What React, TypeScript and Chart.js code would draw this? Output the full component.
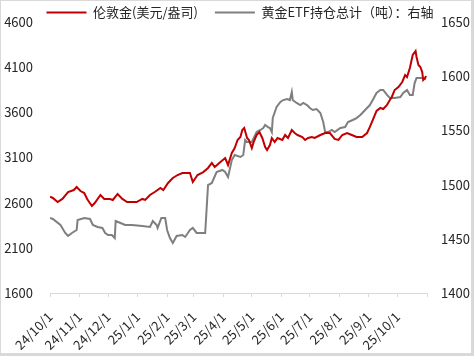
import React, { useEffect, useRef } from 'react';
import { Chart, registerables } from 'chart.js';

Chart.register(...registerables);

// Tick labels of the date axis (month starts), last boundary unlabelled
const monthStarts = [
  '2024-10-01', '2024-11-01', '2024-12-01', '2025-01-01', '2025-02-01', '2025-03-01', '2025-04-01',
  '2025-05-01', '2025-06-01', '2025-07-01', '2025-08-01', '2025-09-01', '2025-10-01', '2025-11-01',
];
const monthLabels = [
  '24/10/1', '24/11/1', '24/12/1', '25/1/1', '25/2/1', '25/3/1', '25/4/1',
  '25/5/1', '25/6/1', '25/7/1', '25/8/1', '25/9/1', '25/10/1', '',
];

// 伦敦金 (USD/oz)
const goldDates = [
  '2024-10-01', '2024-10-04', '2024-10-09', '2024-10-14', '2024-10-20', '2024-10-26', '2024-10-29',
  '2024-11-02', '2024-11-06', '2024-11-09', '2024-11-14', '2024-11-17', '2024-11-23', '2024-11-27',
  '2024-12-03', '2024-12-06', '2024-12-11', '2024-12-16', '2024-12-21', '2024-12-26', '2024-12-31',
  '2025-01-06', '2025-01-09', '2025-01-14', '2025-01-19', '2025-01-25', '2025-01-28',
  '2025-02-02', '2025-02-07', '2025-02-12', '2025-02-17', '2025-02-22', '2025-02-25', '2025-02-28',
  '2025-03-05', '2025-03-11', '2025-03-16', '2025-03-20', '2025-03-23', '2025-03-29',
  '2025-04-03', '2025-04-06', '2025-04-10', '2025-04-13', '2025-04-16', '2025-04-19', '2025-04-21',
  '2025-04-23', '2025-04-26', '2025-04-28',
  '2025-05-01', '2025-05-03', '2025-05-06', '2025-05-09', '2025-05-12', '2025-05-15', '2025-05-17',
  '2025-05-20', '2025-05-22', '2025-05-25', '2025-05-28',
  '2025-06-02', '2025-06-05', '2025-06-08', '2025-06-12', '2025-06-15', '2025-06-18', '2025-06-23',
  '2025-06-26', '2025-06-29',
  '2025-07-03', '2025-07-06', '2025-07-12', '2025-07-17', '2025-07-22', '2025-07-27', '2025-07-31',
  '2025-08-04', '2025-08-09', '2025-08-14', '2025-08-19', '2025-08-25', '2025-08-30',
  '2025-09-02', '2025-09-05', '2025-09-09', '2025-09-13', '2025-09-16', '2025-09-20', '2025-09-23',
  '2025-09-25', '2025-09-28',
  '2025-10-02', '2025-10-06', '2025-10-09', '2025-10-11', '2025-10-14', '2025-10-17', '2025-10-20',
  '2025-10-21', '2025-10-23', '2025-10-25', '2025-10-27', '2025-10-28', '2025-10-30', '2025-10-31',
];
const goldValues = [
  2666, 2652, 2607, 2641, 2718, 2740, 2773,
  2729, 2707, 2641, 2563, 2596, 2685, 2641,
  2641, 2630, 2696, 2641, 2607, 2607, 2607,
  2641, 2630, 2685, 2718, 2762, 2740,
  2818, 2873, 2906, 2928, 2928, 2928, 2829,
  2906, 2939, 2984, 3039, 2995, 3050,
  3094, 3017, 3150, 3205, 3294, 3327, 3404,
  3427, 3316, 3294,
  3205, 3272, 3349, 3382, 3316, 3216, 3183,
  3238, 3316, 3272, 3316,
  3294, 3349, 3316, 3404, 3371, 3349, 3327,
  3294, 3316,
  3327, 3316, 3349, 3371, 3371, 3305, 3294,
  3349, 3371, 3349, 3327, 3327, 3371,
  3438, 3515, 3615, 3648, 3637, 3681, 3737,
  3770, 3847,
  3880, 3936, 4013, 3991, 4091, 4235, 4279,
  4213, 4124, 4102, 4046, 3958, 3980, 4002,
];

// 黄金ETF持仓总计 (吨), right axis
const etfDates = [
  '2024-10-01', '2024-10-04', '2024-10-12', '2024-10-17', '2024-10-20', '2024-10-24', '2024-10-29', '2024-10-30',
  '2024-11-06', '2024-11-12', '2024-11-15', '2024-11-20', '2024-11-25', '2024-11-28',
  '2024-12-01', '2024-12-05', '2024-12-08', '2024-12-09', '2024-12-14', '2024-12-19', '2024-12-26',
  '2025-01-06', '2025-01-14', '2025-01-17', '2025-01-21', '2025-01-22', '2025-01-26', '2025-01-30',
  '2025-02-01', '2025-02-04', '2025-02-07', '2025-02-11', '2025-02-17', '2025-02-20', '2025-02-25', '2025-02-28',
  '2025-03-04', '2025-03-10', '2025-03-13', '2025-03-16', '2025-03-20', '2025-03-25', '2025-03-31',
  '2025-04-03', '2025-04-06', '2025-04-10', '2025-04-13', '2025-04-19', '2025-04-22', '2025-04-24', '2025-04-26',
  '2025-05-01', '2025-05-06', '2025-05-10', '2025-05-13', '2025-05-15', '2025-05-18', '2025-05-20', '2025-05-22',
  '2025-05-23', '2025-05-27', '2025-05-31',
  '2025-06-03', '2025-06-07', '2025-06-10', '2025-06-12', '2025-06-13', '2025-06-17', '2025-06-21', '2025-06-24', '2025-06-28',
  '2025-07-01', '2025-07-04', '2025-07-08', '2025-07-12', '2025-07-15', '2025-07-17', '2025-07-20', '2025-07-24', '2025-07-27',
  '2025-08-02', '2025-08-07', '2025-08-10', '2025-08-15', '2025-08-19', '2025-08-23', '2025-08-26', '2025-08-30',
  '2025-09-02', '2025-09-05', '2025-09-09', '2025-09-13', '2025-09-16', '2025-09-20', '2025-09-23', '2025-09-28',
  '2025-10-04', '2025-10-07', '2025-10-11', '2025-10-14', '2025-10-17', '2025-10-19', '2025-10-21', '2025-10-27', '2025-10-31',
];
const etfValues = [
  1469.2, 1468.3, 1462.7, 1455.4, 1452.6, 1455.4, 1458.1, 1467.3,
  1469.2, 1468.3, 1462.7, 1460.9, 1460.0, 1455.4,
  1453.5, 1453.5, 1450.7, 1466.4, 1464.6, 1462.7, 1462.7,
  1461.8, 1460.9, 1466.4, 1462.7, 1460.0, 1469.2, 1469.2,
  1458.1, 1450.7, 1446.1, 1452.6, 1453.5, 1451.7, 1458.1, 1460.0,
  1455.4, 1455.4, 1455.4, 1499.6, 1501.5, 1511.6, 1513.5,
  1511.6, 1507.0, 1522.7, 1527.3, 1525.5, 1527.3, 1541.1, 1539.3,
  1539.3, 1548.5, 1550.4, 1552.2, 1555.0, 1553.1, 1552.2, 1548.5,
  1561.4, 1571.6, 1576.2,
  1578.0, 1579.0, 1578.0, 1585.4, 1578.0, 1575.3, 1573.4, 1575.3, 1573.4,
  1570.7, 1568.8, 1569.7, 1566.0, 1557.7, 1548.5, 1548.5, 1550.4, 1548.5,
  1552.2, 1553.1, 1557.7, 1559.6, 1561.4, 1564.2, 1567.0, 1570.7,
  1573.4, 1578.0, 1584.5, 1587.3, 1587.3, 1582.7, 1579.9, 1579.9,
  1580.8, 1584.5, 1587.3, 1582.7, 1582.7, 1593.7, 1598.3, 1598.3, 1597.4,
];

const leftTicks = [1600, 2100, 2600, 3100, 3600, 4100, 4600];
const rightTicks = [1400, 1450, 1500, 1550, 1600, 1650];

const BASE = Date.UTC(2024, 9, 1);
const dayOf = (s: string) => {
  const [y, m, d] = s.split('-').map(Number);
  return Math.round((Date.UTC(y, m - 1, d) - BASE) / 86400000);
};

const FONT = '"Noto Sans CJK SC", "Noto Sans", sans-serif';
const TEXT = '#262626';
const AXIS = '#d9d9d9';
const LEGEND_H = 21;
const LEGEND_PAD = 17;
const LEGEND_DX = 4;
const LEGEND_DY = -12;

// Fix the legend band height and nudge where it is drawn
const legendFit = {
  id: 'legendFit',
  beforeLayout(chart: any) {
    const l = chart.legend;
    if (l && !l._patched) {
      const f = l.fit;
      l.fit = function () {
        f.call(this);
        this.height = LEGEND_H;
      };
      const d = l.draw;
      l.draw = function () {
        const ctx = this.ctx;
        const t = this.top;
        const b = this.bottom;
        this.top = t + LEGEND_DY;
        this.bottom = b + 40;
        ctx.save();
        ctx.translate(LEGEND_DX, 0);
        d.call(this);
        ctx.restore();
        this.top = t;
        this.bottom = b;
      };
      l._patched = true;
    }
  },
};

export default function App() {
  const ref = useRef<HTMLCanvasElement | null>(null);

  useEffect(() => {
    if (!ref.current) return;
    const tickDays = monthStarts.map(dayOf);
    const chart = new Chart(ref.current, {
      type: 'line',
      data: {
        datasets: [
          {
            label: '伦敦金(美元/盎司)',
            data: goldDates.map((d, i) => ({ x: dayOf(d), y: goldValues[i] })),
            borderColor: '#C00000',
            backgroundColor: '#C00000',
            borderWidth: 2,
            pointRadius: 0,
            tension: 0,
            yAxisID: 'y',
          },
          {
            label: '黄金ETF持仓总计（吨）：右轴',
            data: etfDates.map((d, i) => ({ x: dayOf(d), y: etfValues[i] })),
            borderColor: '#7F7F7F',
            backgroundColor: '#7F7F7F',
            borderWidth: 2,
            pointRadius: 0,
            tension: 0,
            yAxisID: 'y1',
          },
        ],
      },
      plugins: [legendFit],
      options: {
        animation: false,
        responsive: false,
        devicePixelRatio: 1,
        layout: { padding: { top: 0, left: 0, right: 0, bottom: 0 } },
        plugins: {
          tooltip: { enabled: false },
          legend: {
            position: 'top',
            labels: {
              usePointStyle: true,
              pointStyle: 'line',
              pointStyleWidth: 40,
              padding: LEGEND_PAD,
              color: TEXT,
              font: { family: FONT, size: 13 },
            },
          },
        },
        scales: {
          x: {
            type: 'linear',
            min: tickDays[0],
            max: tickDays[tickDays.length - 1],
            afterBuildTicks: (axis: any) => {
              axis.ticks = tickDays.map((v) => ({ value: v }));
            },
            afterFit: (s: any) => {
              s.height = 60;
            },
            ticks: {
              autoSkip: false,
              maxRotation: 45,
              minRotation: 45,
              padding: 12,
              color: TEXT,
              font: { family: FONT, size: 13 },
              callback: (_v: any, i: number) => monthLabels[i],
            },
            grid: { display: true, drawOnChartArea: false, drawTicks: true, tickLength: 4, color: AXIS },
            border: { display: true, color: AXIS, width: 1 },
          },
          y: {
            position: 'left',
            min: 1600,
            max: 4600,
            afterBuildTicks: (axis: any) => {
              axis.ticks = leftTicks.map((v) => ({ value: v }));
            },
            afterFit: (s: any) => {
              s.width = 49;
            },
            ticks: {
              padding: 2,
              color: TEXT,
              font: { family: FONT, size: 13 },
              callback: (v: any) => String(v),
            },
            grid: { display: true, drawOnChartArea: false, drawTicks: true, tickLength: 15, color: 'rgba(0,0,0,0)' },
            border: { display: false },
          },
          y1: {
            position: 'right',
            min: 1400,
            max: 1650,
            afterBuildTicks: (axis: any) => {
              axis.ticks = rightTicks.map((v) => ({ value: v }));
            },
            afterFit: (s: any) => {
              s.width = 44;
            },
            ticks: {
              padding: 2,
              color: TEXT,
              font: { family: FONT, size: 13 },
              callback: (v: any) => String(v),
            },
            grid: { display: true, drawOnChartArea: false, drawTicks: true, tickLength: 12, color: 'rgba(0,0,0,0)' },
            border: { display: false },
          },
        },
      },
    } as any);
    return () => chart.destroy();
  }, []);

  return (
    <div
      style={{
        position: 'fixed',
        left: 0,
        top: 0,
        width: 474,
        height: 356,
        boxSizing: 'border-box',
        borderTop: `1px solid ${AXIS}`,
        borderLeft: `1px solid ${AXIS}`,
        borderRight: `3px solid ${AXIS}`,
        borderBottom: `3px solid ${AXIS}`,
        background: '#fff',
      }}
    >
      <canvas ref={ref} width={470} height={352} style={{ display: 'block' }} />
    </div>
  );
}
